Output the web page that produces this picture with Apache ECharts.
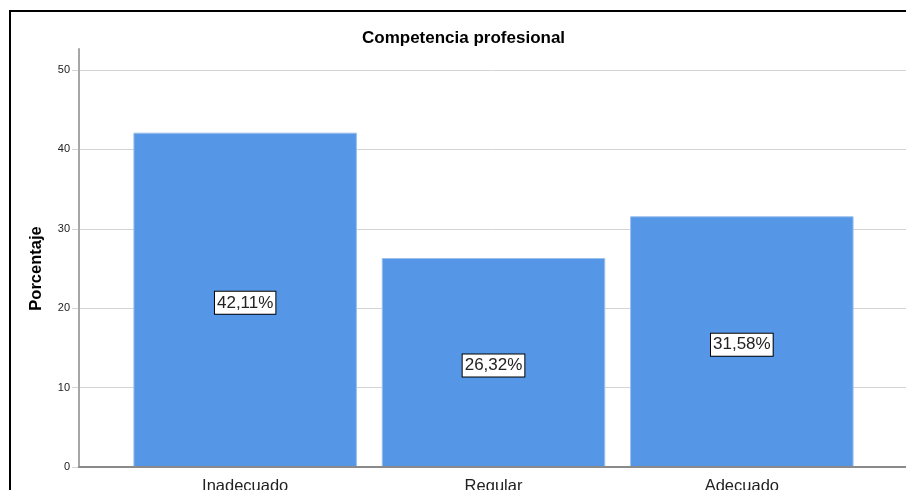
<!DOCTYPE html>
<html>
<head>
<meta charset="utf-8">
<script src="https://cdn.jsdelivr.net/npm/echarts@6/dist/echarts.min.js"></script>
<style>
  html, body { margin: 0; padding: 0; background: #fff; }
  #chart { width: 906px; height: 490px; }
</style>
</head>
<body>
<div id="chart"></div>
<script>
// datos
const categories = ["Inadecuado", "Regular", "Adecuado"];
const percentages = [42.11, 26.32, 31.58];
const yTicks = [0, 10, 20, 30, 40, 50];

const FONT = "Liberation Sans";
const yMin = yTicks[0];
const yMax = yTicks[yTicks.length - 1];
const yStep = yTicks[1] - yTicks[0];

const chart = echarts.init(document.getElementById("chart"));

// las rejillas no deben encogerse para contener las etiquetas
const fixedGrid = { containLabel: false, outerBoundsMode: "none" };

chart.setOption({
  animation: false,
  backgroundColor: "#fff",
  title: {
    text: "Competencia profesional",
    left: 357,
    top: 25,
    textStyle: { fontFamily: FONT, fontSize: 17, fontWeight: "bold", color: "#000" },
  },
  graphic: [
    {
      // marco negro del visor
      type: "rect",
      shape: { x: 10, y: 11, width: 1000, height: 1000 },
      style: { fill: "none", stroke: "#000", lineWidth: 2 },
      z: 100,
    },
  ],
  grid: [
    // 0: solo líneas de ejes (el eje Y sobresale por encima de 50)
    { ...fixedGrid, left: 79, right: 0, top: 49, bottom: 23 },
    // 1: etiquetas Y y líneas de cuadrícula
    { ...fixedGrid, left: 79, right: 0, top: 70, bottom: 23 },
    // 2: barras
    { ...fixedGrid, left: 121, right: 40, top: 70, bottom: 23 },
  ],
  xAxis: [
    {
      gridIndex: 0,
      type: "value",
      min: 0,
      max: 1,
      z: 5,
      axisLine: { show: true, lineStyle: { color: "#8a8a8a", width: 2 } },
      axisTick: { show: false },
      axisLabel: { show: false },
      splitLine: { show: false },
    },
    {
      gridIndex: 1,
      type: "value",
      show: false,
    },
    {
      gridIndex: 2,
      type: "category",
      data: categories,
      axisLine: { show: false },
      axisTick: { show: false },
      axisLabel: { margin: 11, fontFamily: FONT, fontSize: 16.5, color: "#222" },
    },
  ],
  yAxis: [
    {
      gridIndex: 0,
      type: "value",
      min: yMin,
      max: yMax * 1.0534,
      z: 5,
      axisLine: { show: true, lineStyle: { color: "#a6a6a6", width: 2 } },
      axisTick: { show: false },
      axisLabel: { show: false },
      splitLine: { show: false },
    },
    {
      gridIndex: 1,
      type: "value",
      min: yMin,
      max: yMax,
      interval: yStep,
      name: "Porcentaje",
      nameLocation: "middle",
      nameGap: 34,
      nameTextStyle: { fontFamily: FONT, fontSize: 16.5, fontWeight: "bold", color: "#000" },
      axisLine: { show: false },
      axisTick: { show: true, length: 7, lineStyle: { color: "#d4d4d4" } },
      axisLabel: { margin: 9, fontFamily: FONT, fontSize: 11, color: "#222" },
      splitLine: { show: true, lineStyle: { color: "#d4d4d4", width: 1 } },
    },
    {
      gridIndex: 2,
      type: "value",
      min: yMin,
      max: yMax,
      show: false,
    },
  ],
  series: [
    {
      type: "bar",
      xAxisIndex: 2,
      yAxisIndex: 2,
      data: percentages,
      barCategoryGap: "10%",
      itemStyle: { color: "#5596e6", borderColor: "#9cc0ee", borderWidth: 1 },
      label: {
        show: true,
        position: "inside",
        offset: [0, 3],
        formatter: (p) => p.value.toFixed(2).replace(".", ",") + "%",
        fontFamily: FONT,
        fontSize: 17,
        color: "#222",
        backgroundColor: "#fff",
        borderColor: "#000",
        borderWidth: 1,
        padding: [3, 2, 2, 2],
      },
    },
  ],
});
</script>
</body>
</html>
